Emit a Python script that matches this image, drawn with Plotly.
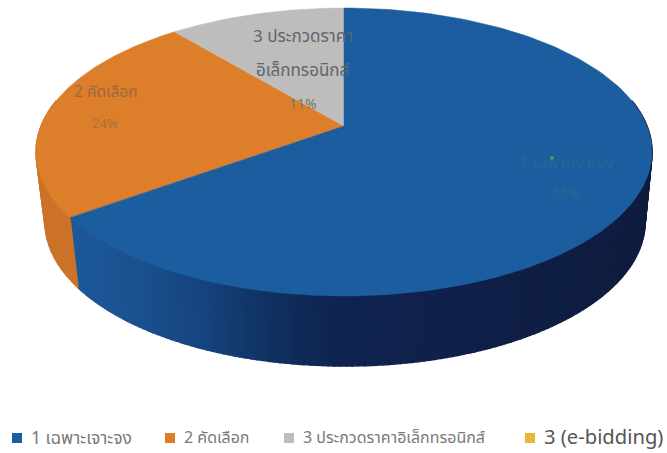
import numpy as np
import plotly.graph_objects as go

# --- data ---
categories = ["1 เฉพาะเจาะจง", "2 คัดเลือก", "3 ประกวดราคาอิเล็กทรอนิกส์", "3 (e-bidding)"]
values = [65, 24, 11, 0]
top_colors = ["#1B5D9F", "#DD7E2B", "#BEBDBB", "#E9B63A"]
wall_colors = ["#1B5D9F", "#CC7229", "#A9A9A9", "#E9B63A"]

# --- 3D pie geometry (pixel space of the 667x453 page) ---
W, H = 667, 453
CX, CY, RX, RY = 344.0, 152.0, 308.0, 144.0      # top face rim
CXB, CYB, RXB, RYB = 345.0, 222.0, 300.0, 144.0  # bottom rim
PERSP = 0.18                                     # how far perspective pushes the apex back
S = np.sqrt(1 - PERSP ** 2)


def warp(theta):
    """True slice angle (clockwise from 12 o'clock) -> unit-circle x, y seen in perspective."""
    d = 1 + PERSP * np.cos(theta)
    return S * np.sin(theta) / d, (np.cos(theta) + PERSP) / d


def rim(theta, bottom=False):
    u, v = warp(theta)
    if bottom:
        return CXB + RXB * u, CYB - RYB * v
    return CX + RX * u, CY - RY * v


def mix(stops, p):
    xs = [s[0] for s in stops]
    chans = [np.interp(p, xs, [int(s[1][i:i + 2], 16) for s in stops]) for i in (1, 3, 5)]
    return "rgb({:.0f},{:.0f},{:.0f})".format(*chans)


# wall shade along screen x: lit at the left end, almost navy on the right
BLUE_WALL = [(60, "#1E5A9C"), (130, "#1A5290"), (200, "#16447F"), (270, "#10305F"),
             (330, "#0F2450"), (450, "#10204A"), (650, "#0F1C3E")]

total = sum(values)
edges = 2 * np.pi * np.cumsum([0] + values) / total

fig = go.Figure()

# walls (only where the rim faces the viewer)
for i, v in enumerate(values):
    if v == 0:
        continue
    a, b = edges[i], edges[i + 1]
    lo = max(a, np.pi / 2 - 0.19)
    hi = min(b, 3 * np.pi / 2 + 0.19)
    if hi <= lo:
        continue
    n = 160 if i == 0 else 20
    ts = np.linspace(lo, hi, n + 1)
    for t0, t1 in zip(ts[:-1], ts[1:]):
        seg = np.linspace(t0, t1, 3)
        xt, yt = rim(seg)
        xb, yb = rim(seg[::-1], bottom=True)
        c = mix(BLUE_WALL, xt.mean()) if i == 0 else wall_colors[i]
        fig.add_trace(go.Scatter(
            x=np.r_[xt, xb, xt[0]], y=np.r_[yt, yb, yt[0]], mode="lines", fill="toself",
            fillcolor=c, line=dict(color=c, width=1.5), hoverinfo="skip", showlegend=False))

# top faces
apex = (CX, CY - RY * PERSP)
for i in (1, 2, 0):
    if values[i] == 0:
        continue
    ts = np.linspace(edges[i], edges[i + 1], 160)
    xs, ys = rim(ts)
    fig.add_trace(go.Scatter(
        x=np.r_[apex[0], xs, apex[0]], y=np.r_[apex[1], ys, apex[1]], mode="lines", fill="toself",
        fillcolor=top_colors[i], line=dict(color=top_colors[i], width=0.5),
        name=categories[i], text=f"{categories[i]} {values[i]}%", hoverinfo="text", showlegend=False))

# small green speck on the blue slice
fig.add_trace(go.Scatter(x=[552], y=[158], mode="markers", hoverinfo="skip", showlegend=False,
                         marker=dict(size=4, color="#4E9A45", symbol="circle")))

FONT = "Noto Sans Thai, Noto Sans, Open Sans, DejaVu Sans, sans-serif"
labels = [
    (566, 162, categories[0], 16.5, "#2C6595"), (566, 193, f"{values[0]}%", 14, "#2C6595"),
    (105, 92, categories[1], 15.5, "#9A6A3E"), (105, 124, f"{values[1]}%", 13, "#A8703C"),
    (303, 37, "3 ประกวดราคา", 17, "#5C6670"), (303, 71, "อิเล็กทรอนิกส์", 17, "#5C6670"),
    (303, 104, f"{values[2]}%", 14, "#6E7A6E"),
]
annotations = [dict(x=x, y=y, text=t, showarrow=False, xref="x", yref="y",
                    font=dict(size=s, color=c, family=FONT)) for x, y, t, s, c in labels]

# legend row
legend_x = [17, 170, 289, 530]
legend_size = [17.5, 16, 16, 20.2]
legend_color = ["#7A7A7A", "#7A7A7A", "#7A7A7A", "#555555"]
LEGEND_Y = 438
shapes = []
for x, name, size, tc, c in zip(legend_x, categories, legend_size, legend_color, top_colors):
    shapes.append(dict(type="rect", xref="x", yref="y", x0=x - 5, x1=x + 5,
                       y0=LEGEND_Y - 5, y1=LEGEND_Y + 5, fillcolor=c, line=dict(width=0)))
    annotations.append(dict(x=x + 12, y=LEGEND_Y, text=name, showarrow=False, xref="x", yref="y",
                            xanchor="left", font=dict(size=size, color=tc, family=FONT)))

fig.update_layout(
    width=W, height=H, margin=dict(l=0, r=0, t=0, b=0), showlegend=False,
    paper_bgcolor="white", plot_bgcolor="white", font=dict(family=FONT),
    xaxis=dict(range=[0, W], visible=False, fixedrange=True),
    yaxis=dict(range=[H, 0], visible=False, fixedrange=True),
    annotations=annotations, shapes=shapes,
)
fig.write_html("out.html", config={"displayModeBar": False},
               post_script="document.body.style.margin='0';document.body.style.overflow='hidden';")
